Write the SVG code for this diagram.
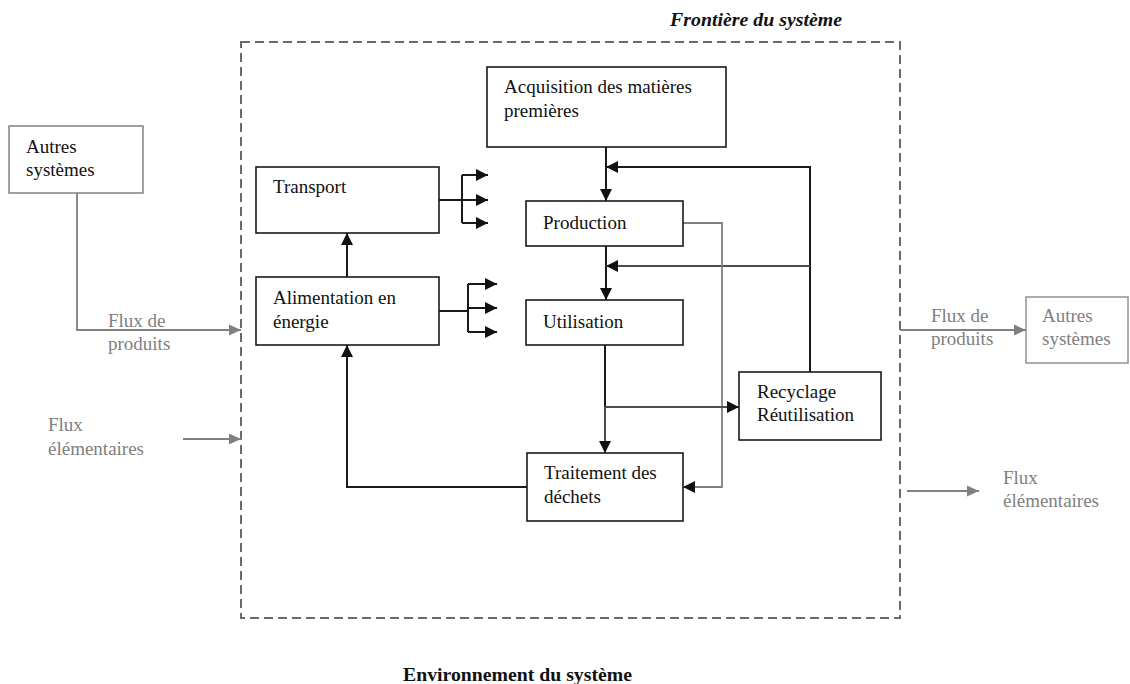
<svg xmlns="http://www.w3.org/2000/svg" width="1130" height="684" viewBox="0 0 1130 684">
<style>
  .box { fill: #fff; stroke: #1a1a1a; stroke-width: 1.6; }
  .gbox { fill: #fff; stroke: #8a8a8a; stroke-width: 1.4; }
  .t { font-family: "Liberation Serif", "Times New Roman", serif; font-size: 19px; fill: #111; }
  .gt { font-family: "Liberation Serif", "Times New Roman", serif; font-size: 19px; fill: #808080; }
  .k { fill: none; stroke: #1a1a1a; stroke-width: 2; }
  .d { fill: none; stroke: #4d4d4d; stroke-width: 2; }
  .g { fill: none; stroke: #808080; stroke-width: 1.8; }
  .title { font-family: "Liberation Serif", "Times New Roman", serif; font-size: 19px; font-weight: bold; fill: #111; }
</style>
<defs>
  <marker id="ak" markerUnits="userSpaceOnUse" markerWidth="14" markerHeight="14" viewBox="0 0 14 14" refX="13" refY="7" orient="auto">
    <path d="M1,1 L13,7 L1,13 Z" fill="#111"/>
  </marker>
  <marker id="ag" markerUnits="userSpaceOnUse" markerWidth="14" markerHeight="14" viewBox="0 0 14 14" refX="13" refY="7" orient="auto">
    <path d="M1,1.5 L13,7 L1,12.5 Z" fill="#808080"/>
  </marker>
</defs>
<rect width="1130" height="684" fill="#fff"/>

<g id="boundary">
  <rect x="241" y="42" width="659" height="576" fill="none" stroke="#6a6a6a" stroke-width="2" stroke-dasharray="9,5"/>
  <text class="title" x="670" y="26" font-style="italic" textLength="172" lengthAdjust="spacingAndGlyphs">Frontière du système</text>
  <text class="title" x="403" y="681" textLength="229" lengthAdjust="spacingAndGlyphs">Environnement du système</text>
</g>

<g id="connectors">
  <!-- left inputs -->
  <path class="g" d="M77,193 V330 H241" marker-end="url(#ag)"/>
  <path class="g" d="M183,439 H241" marker-end="url(#ag)"/>
  <!-- right outputs -->
  <path class="g" d="M900,330 H1026" marker-end="url(#ag)"/>
  <path class="g" d="M907,491 H979" marker-end="url(#ag)"/>
  <!-- alimentation -> transport -->
  <path class="k" d="M347,277 V233" marker-end="url(#ak)"/>
  <!-- transport fork -->
  <path class="k" d="M439,200 H462"/>
  <path class="k" d="M462,175 V223"/>
  <path class="k" d="M462,175 H488" marker-end="url(#ak)"/>
  <path class="k" d="M462,200 H488" marker-end="url(#ak)"/>
  <path class="k" d="M462,223 H488" marker-end="url(#ak)"/>
  <!-- alimentation fork -->
  <path class="k" d="M439,311 H468"/>
  <path class="k" d="M468,284 V332"/>
  <path class="k" d="M468,284 H497" marker-end="url(#ak)"/>
  <path class="k" d="M468,308 H497" marker-end="url(#ak)"/>
  <path class="k" d="M468,332 H497" marker-end="url(#ak)"/>
  <!-- acquisition -> production -->
  <path class="k" d="M606,147 V201" marker-end="url(#ak)"/>
  <!-- recycling feedback to acquisition line -->
  <path class="k" d="M810,372 V167 H606" marker-end="url(#ak)"/>
  <!-- production -> utilisation -->
  <path class="k" d="M606,246 V300" marker-end="url(#ak)"/>
  <!-- recycling feedback (grey) -->
  <path class="d" d="M810,266 H606" marker-end="url(#ak)"/>
  <!-- production -> traitement (grey) -->
  <path class="g" d="M683,223 H722 V487 H683" marker-end="url(#ak)"/>
  <!-- utilisation -> traitement -->
  <path class="k" d="M605,345 V407"/>
  <path class="d" d="M605,407 V453" marker-end="url(#ak)"/>
  <!-- utilisation -> recyclage -->
  <path class="d" d="M605,407 H739" marker-end="url(#ak)"/>
  <!-- traitement -> alimentation -->
  <path class="k" d="M527,487 H347 V345" marker-end="url(#ak)"/>
</g>

<g id="autres-gauche">
  <rect class="gbox" x="9" y="126" width="134" height="67" style="stroke:#7a7a7a"/>
  <text class="t" x="26" y="153">Autres</text>
  <text class="t" x="26" y="176">systèmes</text>
</g>

<g id="transport">
  <rect class="box" x="256" y="167" width="183" height="66"/>
  <text class="t" x="273" y="193">Transport</text>
</g>

<g id="alimentation">
  <rect class="box" x="256" y="277" width="183" height="68"/>
  <text class="t" x="273" y="304">Alimentation en</text>
  <text class="t" x="273" y="328">énergie</text>
</g>

<g id="acquisition">
  <rect class="box" x="487" y="67" width="239" height="80"/>
  <text class="t" x="504" y="93">Acquisition des matières</text>
  <text class="t" x="504" y="117">premières</text>
</g>

<g id="production">
  <rect class="box" x="526" y="201" width="157" height="45"/>
  <text class="t" x="543" y="229">Production</text>
</g>

<g id="utilisation">
  <rect class="box" x="526" y="300" width="157" height="45"/>
  <text class="t" x="543" y="328">Utilisation</text>
</g>

<g id="recyclage">
  <rect class="box" x="739" y="372" width="142" height="68"/>
  <text class="t" x="757" y="398">Recyclage</text>
  <text class="t" x="757" y="421">Réutilisation</text>
</g>

<g id="traitement">
  <rect class="box" x="527" y="453" width="156" height="68"/>
  <text class="t" x="544" y="479">Traitement des</text>
  <text class="t" x="544" y="503">déchets</text>
</g>

<g id="autres-droite">
  <rect class="gbox" x="1026" y="297" width="102" height="66"/>
  <text class="gt" x="1042" y="322">Autres</text>
  <text class="gt" x="1042" y="345">systèmes</text>
</g>

<g id="labels">
  <text class="gt" x="108" y="327">Flux de</text>
  <text class="gt" x="108" y="350">produits</text>
  <text class="gt" x="48" y="431">Flux</text>
  <text class="gt" x="48" y="455">élémentaires</text>
  <text class="gt" x="931" y="322">Flux de</text>
  <text class="gt" x="931" y="345">produits</text>
  <text class="gt" x="1003" y="484">Flux</text>
  <text class="gt" x="1003" y="507">élémentaires</text>
</g>
</svg>
